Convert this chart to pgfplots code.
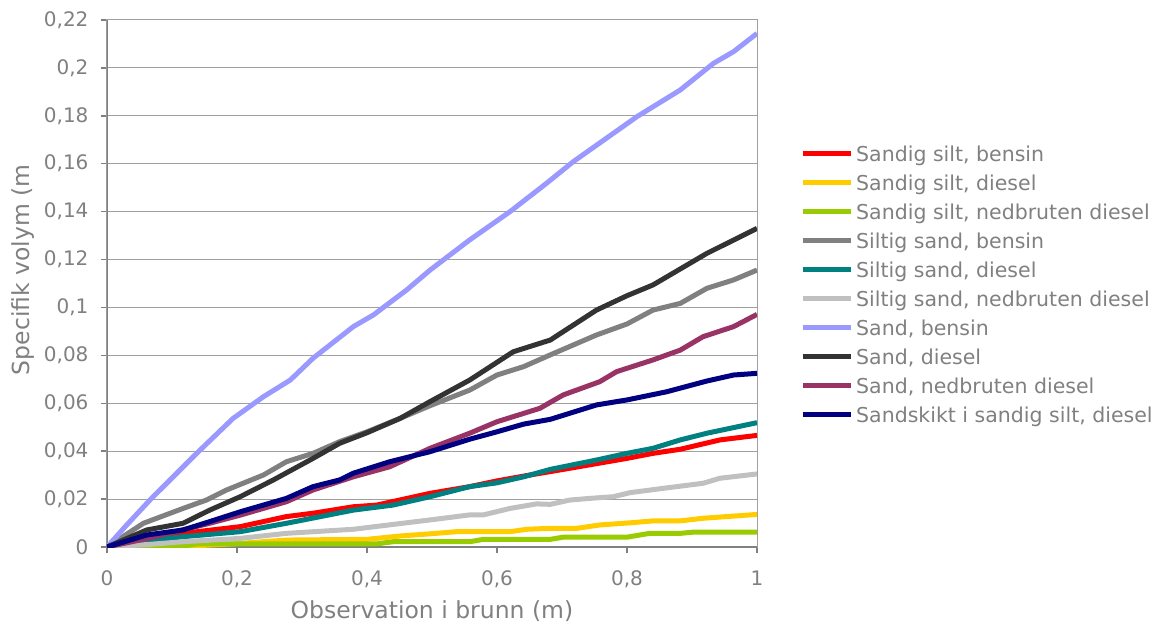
\documentclass[border=0pt]{standalone}
\usepackage{fontspec}
\setmainfont{DejaVu Sans}
\usepackage{pgfplots}
\pgfplotsset{compat=1.18}
\definecolor{txt}{HTML}{808080}
\definecolor{gridc}{HTML}{A0A0A0}
\definecolor{axc}{HTML}{808080}
\definecolor{cRed}{HTML}{FF0000}
\definecolor{cYel}{HTML}{FFCC00}
\definecolor{cGrn}{HTML}{99CC00}
\definecolor{cGry}{HTML}{808080}
\definecolor{cTeal}{HTML}{008080}
\definecolor{cLGry}{HTML}{C0C0C0}
\definecolor{cBlue}{HTML}{9999FF}
\definecolor{cDark}{HTML}{333333}
\definecolor{cPurp}{HTML}{993366}
\definecolor{cNavy}{HTML}{000080}
\begin{document}
\begin{tikzpicture}
\begin{axis}[
  name=ax,
  scale only axis, width=650pt, height=527pt,
  xmin=0, xmax=1, ymin=0, ymax=0.22,
  xtick={0,0.2,0.4,0.6,0.8,1},
  xticklabels={0,{0,2},{0,4},{0,6},{0,8},1},
  ytick={0,0.02,0.04,0.06,0.08,0.1,0.12,0.14,0.16,0.18,0.2,0.22},
  yticklabels={0,{0,02},{0,04},{0,06},{0,08},{0,1},{0,12},{0,14},{0,16},{0,18},{0,2},{0,22}},
  xtick pos=bottom, ytick pos=left,
  tick align=outside, major tick length=6pt,
  tick style={color=axc, line width=1.5pt},
  ymajorgrids, major grid style={color=gridc, line width=1pt},
  axis line style={draw=gridc, line width=1pt},
  ticklabel style={font=\fontsize{20}{24}\selectfont, text=txt},
  xticklabel shift=14pt,
  yticklabel shift=9pt,
  xlabel={Observation i brunn (m)},
  ylabel={Specifik volym (m},
  label style={font=\fontsize{23.5}{28}\selectfont, text=txt},
  xlabel shift=6pt,
  ylabel shift=3pt,
  ylabel style={at={(ticklabel cs:0.526)}},
  legend cell align=left,
  legend style={at={(1,0.5)}, anchor=west, xshift=43pt, yshift=-3pt, draw=none, fill=none,
    inner sep=0pt, font=\fontsize{20.5}{24}\selectfont, text=txt, row sep=10pt,
    nodes={inner sep=0pt, text height=15pt, text depth=4pt},
    /tikz/every odd column/.append style={column sep=3pt}},
  legend image code/.code={\draw[#1, line width=5pt] (0pt,0.3em) -- (48pt,0.3em);},
  every axis plot/.append style={line width=5pt, line join=round},
]
\draw[axc, line width=2pt] (rel axis cs:0,1) -- (rel axis cs:0,0) -- (rel axis cs:1,0);

\addplot[cRed] coordinates {(0,0) (0.061,0.0032) (0.117,0.0057) (0.205,0.0085) (0.276,0.0127) (0.317,0.0141) (0.379,0.0168) (0.415,0.0175) (0.497,0.0224) (0.558,0.0252) (0.6,0.0276) (0.641,0.0296) (0.702,0.0324) (0.8,0.037) (0.84,0.0391) (0.882,0.0408) (0.943,0.0447) (1,0.0466)};
\addlegendentry{Sandig silt, bensin}

\addplot[cYel] coordinates {(0,0) (0.1,0) (0.194,0.0013) (0.276,0.0029) (0.4,0.0032) (0.451,0.0046) (0.497,0.0055) (0.538,0.0064) (0.62,0.0064) (0.646,0.0074) (0.682,0.0078) (0.723,0.0078) (0.758,0.0092) (0.805,0.0101) (0.84,0.0109) (0.882,0.0109) (0.917,0.012) (1,0.0136)};
\addlegendentry{Sandig silt, diesel}

\addplot[cGrn] coordinates {(0,0) (0.117,0.0003) (0.138,0.0013) (0.415,0.0013) (0.44,0.0022) (0.558,0.0022) (0.579,0.0032) (0.682,0.0032) (0.702,0.0041) (0.8,0.0041) (0.835,0.0057) (0.882,0.0057) (0.902,0.0062) (1,0.0062)};
\addlegendentry{Sandig silt, nedbruten diesel}

\addplot[cGry] coordinates {(0,0) (0.056,0.0099) (0.117,0.0161) (0.153,0.0196) (0.184,0.0238) (0.241,0.0301) (0.276,0.0356) (0.317,0.0391) (0.358,0.044) (0.4,0.0481) (0.451,0.0537) (0.497,0.0590) (0.558,0.0655) (0.6,0.0718) (0.641,0.0753) (0.682,0.0802) (0.753,0.0885) (0.8,0.0931) (0.84,0.0989) (0.882,0.1017) (0.923,0.108) (0.964,0.1115) (1,0.1156)};
\addlegendentry{Siltig sand, bensin}

\addplot[cTeal] coordinates {(0,0) (0.061,0.0026) (0.117,0.0043) (0.205,0.0064) (0.276,0.0099) (0.379,0.0154) (0.44,0.0175) (0.497,0.021) (0.558,0.0252) (0.6,0.0268) (0.641,0.0293) (0.682,0.0324) (0.753,0.0363) (0.8,0.0391) (0.84,0.0412) (0.882,0.0447) (0.923,0.0475) (1,0.0519)};
\addlegendentry{Siltig sand, diesel}

\addplot[cLGry] coordinates {(0,0) (0.061,0.001) (0.117,0.0022) (0.205,0.0036) (0.276,0.0057) (0.379,0.0074) (0.497,0.0113) (0.558,0.0134) (0.579,0.0134) (0.62,0.0161) (0.661,0.018) (0.682,0.0178) (0.712,0.0196) (0.743,0.0203) (0.779,0.021) (0.805,0.0227) (0.856,0.0245) (0.917,0.0266) (0.943,0.0287) (1,0.0305)};
\addlegendentry{Siltig sand, nedbruten diesel}

\addplot[cBlue] coordinates {(0,0) (0.028,0.0085) (0.066,0.0196) (0.097,0.028) (0.138,0.0391) (0.194,0.0537) (0.241,0.0628) (0.282,0.0697) (0.317,0.0788) (0.379,0.092) (0.41,0.0969) (0.461,0.1073) (0.497,0.1156) (0.558,0.1282) (0.62,0.140) (0.676,0.1518) (0.717,0.1608) (0.815,0.1796) (0.882,0.1908) (0.933,0.2019) (0.964,0.2068) (1,0.2144)};
\addlegendentry{Sand, bensin}

\addplot[cDark] coordinates {(0,0) (0.061,0.0071) (0.117,0.0099) (0.158,0.0154) (0.205,0.021) (0.256,0.028) (0.317,0.037) (0.358,0.0433) (0.4,0.0477) (0.451,0.0537) (0.497,0.0607) (0.558,0.0697) (0.625,0.0815) (0.682,0.0864) (0.753,0.0989) (0.8,0.1049) (0.84,0.1094) (0.923,0.1226) (1,0.133)};
\addlegendentry{Sand, diesel}

\addplot[cPurp] coordinates {(0,0) (0.061,0.0035) (0.158,0.0099) (0.205,0.0133) (0.276,0.0189) (0.317,0.0238) (0.379,0.0293) (0.435,0.0335) (0.497,0.0412) (0.558,0.0475) (0.6,0.0523) (0.666,0.0579) (0.702,0.0635) (0.758,0.069) (0.784,0.0732) (0.84,0.0781) (0.882,0.0822) (0.917,0.0878) (0.964,0.092) (1,0.0971)};
\addlegendentry{Sand, nedbruten diesel}

\addplot[cNavy] coordinates {(0,0) (0.061,0.005) (0.117,0.0071) (0.158,0.0106) (0.205,0.0147) (0.276,0.0203) (0.317,0.0252) (0.358,0.028) (0.379,0.0308) (0.435,0.0356) (0.497,0.0398) (0.558,0.045) (0.6,0.0481) (0.641,0.0513) (0.682,0.0533) (0.753,0.0593) (0.8,0.0614) (0.861,0.0648) (0.923,0.0693) (0.964,0.0718) (1,0.0725)};
\addlegendentry{Sandskikt i sandig silt, diesel}
\end{axis}
\pgfresetboundingbox
\path ([shift={(-107pt,-77pt)}]ax.south west) rectangle ([shift={(402pt,20pt)}]ax.north east);
\end{tikzpicture}
\end{document}
